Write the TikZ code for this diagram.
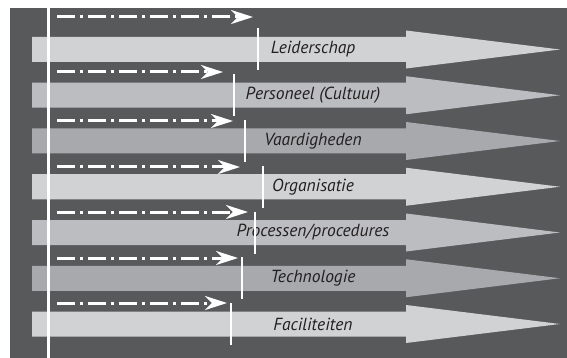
\documentclass[tikz,border=0pt]{standalone}
\usepackage{fontspec}
\setsansfont{PT Sans}
\usetikzlibrary{arrows.meta}

\definecolor{panel}{HTML}{58595B}
\definecolor{barlight}{HTML}{D1D2D4}
\definecolor{barmid}{HTML}{BCBDC0}
\definecolor{bardark}{HTML}{A7A9AC}
\definecolor{labeltext}{HTML}{231F20}

\tikzset{
  bar/.style={draw=none},
  barlabel/.style={font=\sffamily\itshape\fontsize{17.5}{20}\selectfont, text=labeltext, inner sep=0pt},
  plan/.style={white, line width=3pt, dash pattern=on 18pt off 5pt on 3pt off 5pt,
    -{Stealth[length=22pt, width=14pt, inset=7pt]}},
  marker/.style={white, line width=2.2pt}
}

\begin{document}
\begin{tikzpicture}[x=1pt, y=-1pt]
  \useasboundingbox (0,0) rectangle (567,358);

  % Background panel
  \fill[panel] (10,8) rectangle (567,358);

  % Rows: index / label / colour / arrow y / arrow tip / marker x
  \foreach \i/\txt/\col/\ya/\tip/\mx in {
      1/Leiderschap/barlight/17/253/258,
      2/{Personeel (Cultuur)}/barmid/72/223/234,
      3/Vaardigheden/bardark/121/233/245,
      4/Organisatie/barlight/167/240/263,
      5/{Processen/procedures}/barmid/212/248/255,
      6/Technologie/bardark/258/238/242,
      7/Faciliteiten/barlight/303/227/231}{
    \pgfmathsetmacro{\yc}{49.5+(\i-1)*45.75}
    % Big arrow
    \fill[\col, bar] (32,\yc-12.5) -- (406,\yc-12.5) -- (406,\yc-19)
      -- (560,\yc) -- (406,\yc+19) -- (406,\yc+12.5) -- (32,\yc+12.5) -- cycle;
    \node[barlabel] (lbl\i) at (313,\yc) {\txt};
    % Dash-dot arrow
    \coordinate (from\i) at (57,\ya);
    \coordinate (to\i) at (\tip,\ya);
    \draw[plan] (from\i) -- (to\i);
    % Marker
    \coordinate (mtop\i) at (\mx,\yc-21);
    \coordinate (mbot\i) at (\mx,\yc+21);
    \draw[marker] (mtop\i) -- (mbot\i);
  }

  % Start line
  \coordinate (start) at (48,8);
  \coordinate (end) at (48,358);
  \draw[white, line width=3pt] (start) -- (end);
\end{tikzpicture}
\end{document}
